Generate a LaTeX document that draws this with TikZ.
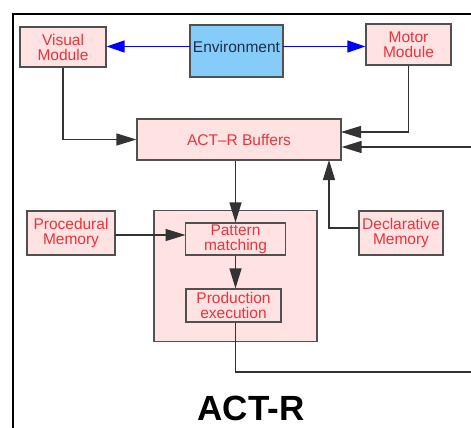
\documentclass[tikz,border=0pt]{standalone}
\usepackage{fontspec}
\setmainfont{Liberation Sans}
\usepackage{tikz}
\usetikzlibrary{positioning,arrows.meta,calc}
\definecolor{boxpink}{HTML}{FFE2E2}
\definecolor{boxline}{HTML}{505050}
\definecolor{modred}{HTML}{E8343C}
\definecolor{envblue}{HTML}{86CCF8}
\definecolor{envtext}{HTML}{1E2E4E}

\begin{document}
\begin{tikzpicture}[x=1pt,y=-1pt,
  modbox/.style={draw=boxline,line width=1.2pt,fill=boxpink,text=modred,align=center,
    inner sep=0pt,font=\fontsize{15.5}{15}\selectfont},
  flow/.style={draw=black!80,line width=1.3pt,-{Triangle[length=20pt,width=12pt]}},
  envflow/.style={draw=blue,line width=1.3pt,-{Triangle[length=18pt,width=12pt,fill=blue]}}]
\clip (0,0) rectangle (471,428);
\useasboundingbox (0,0) rectangle (471,428);
% frame
\draw[line width=1.6pt] (13,440) -- (13,14) -- (480,14);
% top row
\node[modbox,minimum width=86pt,minimum height=40pt] (vis) at (63,47) {Visual\\Module};
\node[draw=boxline,line width=1.2pt,fill=envblue,text=envtext,inner sep=0pt,
      minimum width=93pt,minimum height=52pt,font=\fontsize{15.5}{15}\selectfont] (env) at (236.5,51) {};
\node[text=envtext,inner sep=0pt,font=\fontsize{15.5}{15}\selectfont] (envlab) at (236.5,47) {Environment};
\node[modbox,minimum width=85pt,minimum height=41pt] (mot) at (408.5,44.5) {Motor\\Module};
% buffers
\node[modbox,minimum width=204pt,minimum height=41pt] (buf) at (239,139.5) {ACT--R Buffers};
% production system
\node[modbox,minimum width=163pt,minimum height=131pt] (prod) at (235.5,276) {};
\node[modbox,minimum width=100pt,minimum height=32pt] (pat) at (235.5,239) {Pattern\\matching};
\node[modbox,minimum width=95pt,minimum height=33pt] (exe) at (233.5,305.5) {Production\\execution};
% memories
\node[modbox,minimum width=88pt,minimum height=44pt] (proc) at (71,233) {Procedural\\Memory};
\node[modbox,minimum width=84pt,minimum height=44pt] (decl) at (401,233) {Declarative\\Memory};
% title
\node[font=\fontsize{35}{35}\selectfont\bfseries] (title) at (251,408) {ACT-R};
% free ends and bends
\coordinate (envl) at (190,46.5);
\coordinate (envr) at (283,46.5);
\coordinate (rin) at (475,147);
\coordinate (rout) at (475,372);
\coordinate (motin) at (341,132);
\coordinate (procout) at (115,235);
\coordinate (patin) at (185.5,235);
\coordinate (declout) at (359,228);
\coordinate (declin) at (329,160);
% arrows
\draw[envflow] (envl) -- (envl -| vis.east);
\draw[envflow] (envr) -- (envr -| mot.west);
\draw[flow] (vis.south) |- (buf.west);
\draw[flow] (mot.south) |- (motin);
\draw[flow] (rin) -- (rin -| buf.east);
\draw[flow] (buf.south -| pat.north) -- (pat.north);
\draw[flow] (pat.south) -- (pat.south |- exe.north);
\draw[flow] (procout) -- (patin);
\draw[flow] (declout) -| (declin);
\draw[draw=black!80,line width=1.3pt] (exe.south -| pat.south) |- (rout);
\end{tikzpicture}
\end{document}
